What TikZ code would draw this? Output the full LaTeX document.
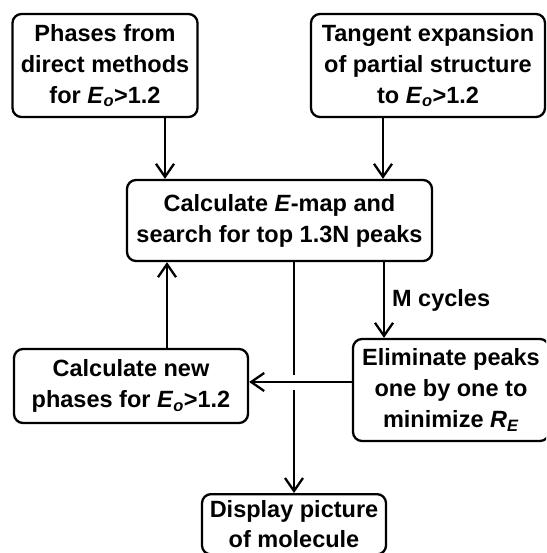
\documentclass[tikz,border=0pt]{standalone}
\usepackage{fontspec}
\setmainfont{Liberation Sans}
\usetikzlibrary{arrows.meta}

\newcommand{\Eo}{\textit{E}\textsubscript{\textit{o}}}
\newcommand{\RE}{\textit{R}\textsubscript{\textit{E}}}

\begin{document}
\begin{tikzpicture}[x=1pt,y=-1pt,
    box/.style={draw, rounded corners=9pt, line width=2.3pt, align=center,
      inner sep=2pt, font=\fontsize{23.5}{31}\selectfont\bfseries},
    flow/.style={line width=2.3pt, -{Straight Barb[length=13pt,width=18pt]}}]
  \useasboundingbox (0,0) rectangle (546,553);
  \clip (0,0) rectangle (546,553);

  % the boxes
  \node[box, minimum width=185, minimum height=103] (phases) at (105,65.5)
    {Phases from\\direct methods\\for \Eo>1.2};
  \node[box, minimum width=234, minimum height=103] (tangent) at (428,65.5)
    {Tangent expansion\\of partial structure\\to \Eo>1.2};
  \node[box, minimum width=305, minimum height=81] (emap) at (279.5,220.5)
    {Calculate \textit{E}-map and\\search for top 1.3N peaks};
  \node[box, minimum width=234, minimum height=74] (newph) at (131,386)
    {Calculate new\\phases for \Eo>1.2};
  \node[box, minimum width=196, minimum height=102] (elim) at (451,390)
    {Eliminate peaks\\one by one to\\minimize \RE};
  \node[box, anchor=north, minimum width=184, inner ysep=6.5pt,
    font=\fontsize{23.5}{30}\selectfont\bfseries] (disp) at (294,493)
    {Display picture\\of molecule};

  % into the E-map box
  \coordinate (p1) at ([xshift=60pt]phases.south);
  \draw[flow] (p1) -- (p1 |- emap.north);
  \coordinate (t1) at ([xshift=-45pt]tangent.south);
  \draw[flow] (t1) -- (t1 |- emap.north);
  \coordinate (n1) at ([xshift=36pt]newph.north);
  \draw[flow] (n1) -- (n1 |- emap.south);

  % the cycle
  \coordinate (m1) at ([xshift=104.5pt]emap.south);
  \draw[flow] (m1) -- (m1 |- elim.north)
    node[midway, right, inner sep=2pt, xshift=5pt,
      font=\fontsize{23.5}{31}\selectfont\bfseries] {M cycles};
  \coordinate (back) at ([yshift=4pt]newph.east);
  \draw[flow] (back -| elim.west) -- (back);

  % down to the display box, broken where the return line crosses
  \coordinate (cross) at (back -| disp.north);
  \draw[flow] (emap.south -| disp.north) -- ([yshift=7pt]cross)
    ([yshift=-8pt]cross) -- (disp.north);
\end{tikzpicture}
\end{document}
